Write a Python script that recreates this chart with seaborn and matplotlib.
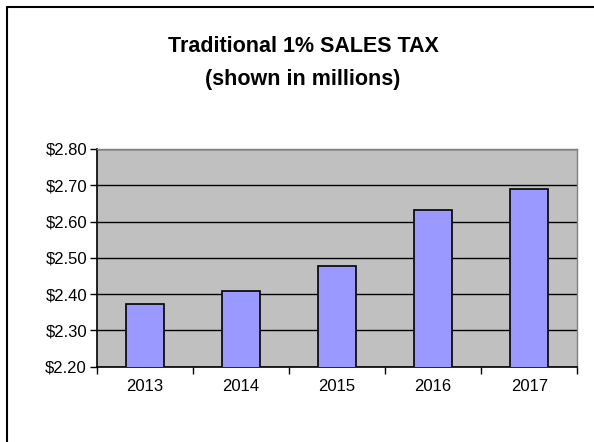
import matplotlib
matplotlib.use("Agg")
import matplotlib.pyplot as plt
import seaborn as sns
import pandas as pd
from matplotlib.ticker import FuncFormatter, FixedLocator
from matplotlib.lines import Line2D

years = ["2013", "2014", "2015", "2016", "2017"]
sales_tax = [2.372, 2.409, 2.477, 2.631, 2.691]
y_ticks = [2.20, 2.30, 2.40, 2.50, 2.60, 2.70, 2.80]
title = "Traditional 1% SALES TAX\n(shown in millions)"

sns.set_style("white")
plt.rcParams['font.family'] = ['Liberation Sans', 'DejaVu Sans']
plt.rcParams['text.color'] = 'black'
plt.rcParams['xtick.color'] = 'black'
plt.rcParams['ytick.color'] = 'black'

df = pd.DataFrame({"year": years, "value": sales_tax})

fig = plt.figure(figsize=(5.94, 4.42), dpi=100)
ax = fig.add_axes([0.1628, 0.1704, 0.8091, 0.4925])
ax.set_facecolor('#C0C0C0')

sns.barplot(data=df, x="year", y="value", color='#9999FF', edgecolor='black',
            linewidth=1.2, width=0.4, saturation=1, ax=ax, zorder=3)

ax.set_ylim(2.2, 2.8)
ax.set_xlim(-0.5, 4.5)
ax.yaxis.set_major_locator(FixedLocator(y_ticks))
ax.yaxis.set_major_formatter(FuncFormatter(lambda v, p: f"${v:.2f}"))
ax.yaxis.grid(True, color='black', linewidth=1, zorder=1)
ax.set_axisbelow(True)
ax.set_xlabel("")
ax.set_ylabel("")

ax.tick_params(axis='y', which='major', direction='out', length=5, width=1,
               color='black', labelcolor='black', labelsize=12, pad=2, left=True)
ax.tick_params(axis='x', which='major', length=0, labelsize=12, labelcolor='black', pad=9)
ax.xaxis.set_minor_locator(FixedLocator([-0.5, 0.5, 1.5, 2.5, 3.5, 4.5]))
ax.tick_params(axis='x', which='minor', direction='out', length=5, width=1,
               color='black', bottom=True)

for s in ['left', 'bottom']:
    ax.spines[s].set_color('black')
    ax.spines[s].set_linewidth(1.2)
for s in ['top', 'right']:
    ax.spines[s].set_color('#808080')
    ax.spines[s].set_linewidth(1)
    ax.spines[s].set_visible(True)

fig.text(0.51, 0.857, title, ha='center', va='center', fontsize=15.5,
         fontweight='bold', linespacing=1.75, color='black')

fig.add_artist(Line2D([6.5/594, 6.5/594], [0, 1 - 6.5/442], transform=fig.transFigure,
                      color='black', linewidth=1.5))
fig.add_artist(Line2D([6.5/594, 1], [1 - 6.5/442, 1 - 6.5/442], transform=fig.transFigure,
                      color='black', linewidth=1.5))

fig.savefig("out.png", dpi=100)
